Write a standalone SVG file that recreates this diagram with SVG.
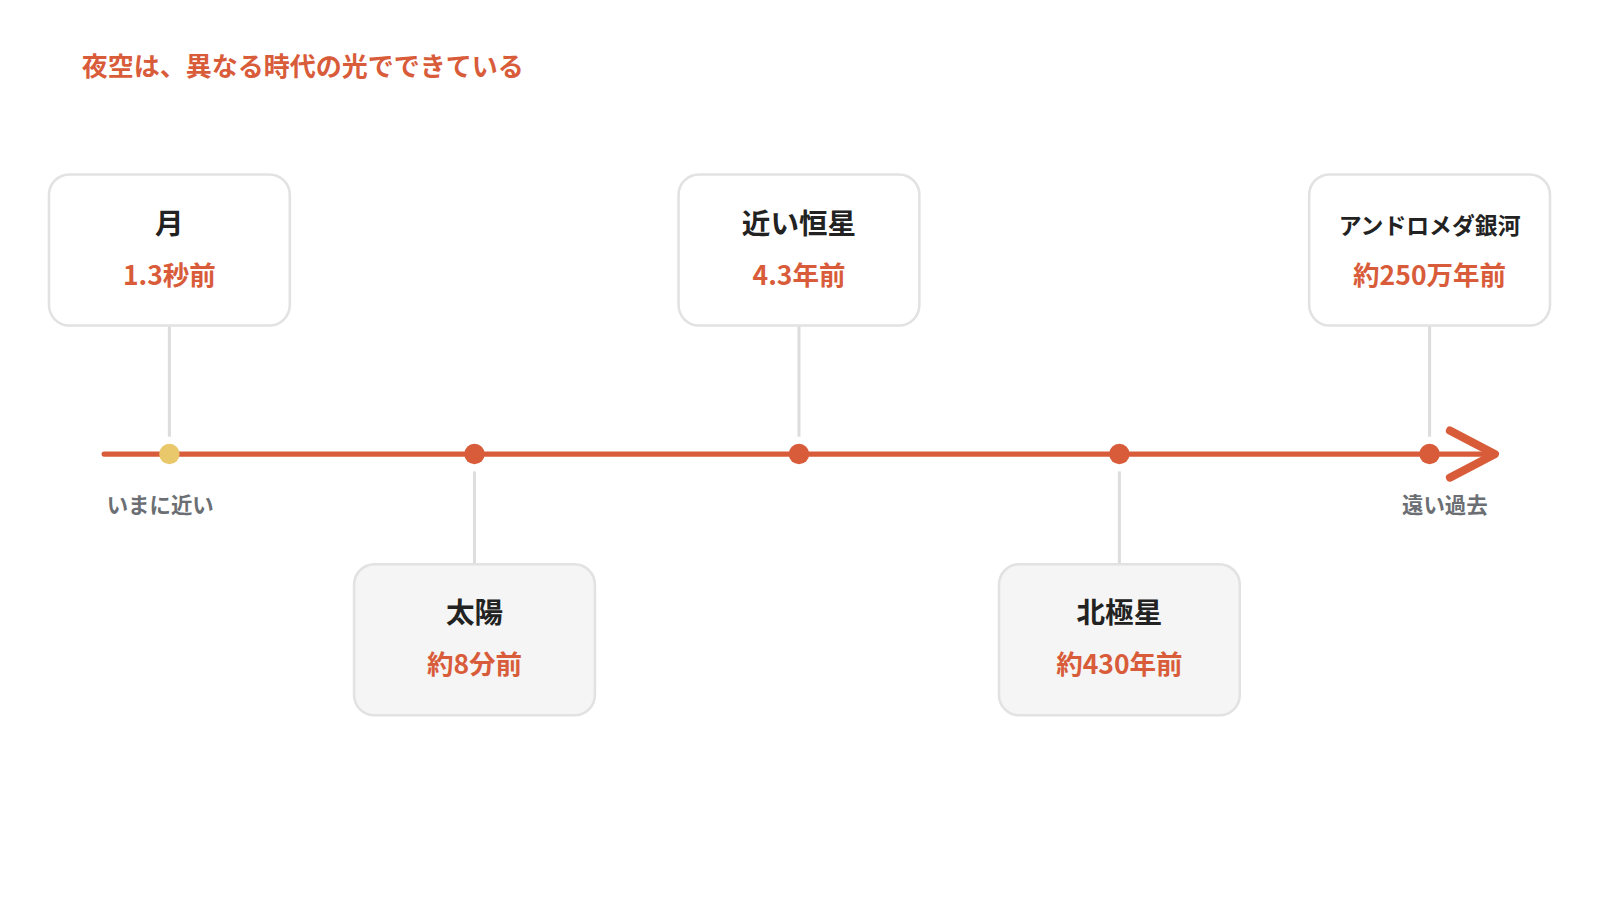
<svg xmlns="http://www.w3.org/2000/svg" width="1600" height="900" viewBox="0 0 1600 900">
<style>
text{font-family:"Noto Sans CJK JP","Noto Sans",sans-serif;font-weight:bold;text-anchor:middle}
.box{fill:#fff;stroke:#E2E2E2;stroke-width:2.5}
.box2{fill:#F4F5F4;stroke:#E2E2E2;stroke-width:2.5}
.t{font-size:28px;fill:#222}
.v{font-size:26px;fill:#D95C3A}
.c{stroke:#DDDDDD;stroke-width:3}
.ax{font-size:21px;fill:#6B6F73}
</style>
<rect width="1600" height="900" fill="#fff"/>
<g transform="scale(1.0204)">
<text x="80" y="74" style="text-anchor:start;font-size:25.5px;fill:#D95C3A">夜空は、異なる時代の光でできている</text>
<g id="connectors">
<line class="c" x1="166" y1="319" x2="166" y2="428"/>
<line class="c" x1="783" y1="319" x2="783" y2="428"/>
<line class="c" x1="1401" y1="319" x2="1401" y2="428"/>
<line class="c" x1="465" y1="462" x2="465" y2="553"/>
<line class="c" x1="1097" y1="462" x2="1097" y2="553"/>
</g>
<g id="axis">
<line x1="102" y1="445" x2="1462" y2="445" stroke="#D95C3A" stroke-width="5" stroke-linecap="round"/>
<polyline points="1421,422 1465,445 1421,468" fill="none" stroke="#D95C3A" stroke-width="8" stroke-linecap="round" stroke-linejoin="round"/>
<circle cx="166" cy="445" r="10" fill="#E8C86A"/>
<circle cx="465" cy="445" r="10" fill="#D95C3A"/>
<circle cx="783" cy="445" r="10" fill="#D95C3A"/>
<circle cx="1097" cy="445" r="10" fill="#D95C3A"/>
<circle cx="1401" cy="445" r="10" fill="#D95C3A"/>
<text class="ax" x="157" y="503">いまに近い</text>
<text class="ax" x="1416" y="503">遠い過去</text>
</g>
<g id="moon"><rect class="box" x="48" y="171" width="236" height="148" rx="20"/><text class="t" x="166" y="229">月</text><text class="v" x="166" y="279">1.3秒前</text></g>
<g id="sun"><rect class="box2" x="347" y="553" width="236" height="148" rx="20"/><text class="t" x="465" y="611">太陽</text><text class="v" x="465" y="661">約8分前</text></g>
<g id="star"><rect class="box" x="665" y="171" width="236" height="148" rx="20"/><text class="t" x="783" y="229">近い恒星</text><text class="v" x="783" y="279">4.3年前</text></g>
<g id="polaris"><rect class="box2" x="979" y="553" width="236" height="148" rx="20"/><text class="t" x="1097" y="611">北極星</text><text class="v" x="1097" y="661">約430年前</text></g>
<g id="andromeda"><rect class="box" x="1283" y="171" width="236" height="148" rx="20"/><text class="t" x="1401" y="229" style="font-size:22.4px">アンドロメダ銀河</text><text class="v" x="1401" y="279">約250万年前</text></g>
</g>
</svg>
